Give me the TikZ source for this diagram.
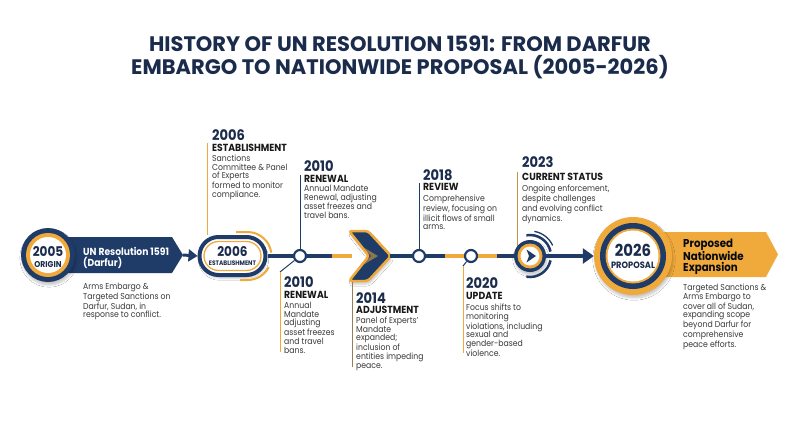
\documentclass[tikz,border=0pt]{standalone}
\usepackage{fontspec}
\setmainfont{Poppins}[FakeStretch=0.9]
\newfontfamily\titlefont{Poppins}
\usetikzlibrary{arrows.meta,shadows.blur}
\definecolor{navy}{HTML}{1F3B68}
\definecolor{dnavy}{HTML}{1A2B4C}
\definecolor{gold}{HTML}{F0A93B}
\definecolor{ink}{HTML}{3A3A3A}
\begin{document}
\begin{tikzpicture}[x=1pt,y=-1pt,
  yr/.style={anchor=base west,inner sep=0,text=dnavy,font=\fontsize{14.5}{14.5}\selectfont\bfseries},
  hd/.style={anchor=base west,inner sep=0,text=black!90,font=\fontsize{10.3}{10.3}\selectfont\bfseries},
  ds/.style={anchor=north west,inner sep=0,text=ink,align=left,font=\fontsize{8.6}{8.7}\selectfont},
  dot/.style={circle,draw=navy,fill=white,line width=2.2,minimum size=12,inner sep=0},
  disc/.style={circle,inner sep=0,fill=#1},
  tl/.style={line width=4},
  vl/.style={line width=1},
  shd/.style={blur shadow={shadow blur steps=6,shadow xshift=1pt,shadow yshift=-3pt,shadow opacity=22}},
]
\useasboundingbox (0,0) rectangle (800,447);
\fill[white] (0,0) rectangle (800,447);

% title
\node[align=center,text=dnavy,inner sep=0,font=\titlefont\fontsize{21}{23}\selectfont\bfseries] (title) at (400,57)
  {HISTORY OF UN RESOLUTION 1591: FROM DARFUR\\EMBARGO TO NATIONWIDE PROPOSAL (2005-2026)};

% ---------- 2005 origin ----------
\fill[navy] (60,237) -- (172,237) -- (183,255) -- (172,273) -- (60,273) -- cycle;
\coordinate (b05) at (183,255);
\node[disc=navy,minimum size=54,shd] (c05) at (48,255) {};
\node[disc=gold,minimum size=44] at (c05) {};
\node[disc=white,minimum size=36] at (c05) {};
\node[anchor=base,inner sep=0,text=dnavy,font=\fontsize{13.4}{13.4}\selectfont\bfseries] (y05) at (48,256.5) {2005};
\node[anchor=base,inner sep=0,text=dnavy,font=\fontsize{8.5}{8.5}\selectfont\bfseries] (o05) at (48,267.5) {ORIGIN};
\node[anchor=north west,inner sep=0,align=left,text=white,font=\fontsize{10.2}{10.5}\selectfont\bfseries] (t05) at (83,247.5) {UN Resolution 1591\\(Darfur)};
\node[ds] (d05) at (83,282.8) {Arms Embargo \&\\Targeted Sanctions on\\Darfur, Sudan, in\\response to conflict.};

% ---------- 2006 pill ----------
\node[draw=navy,fill=white,line width=4,minimum width=66,minimum height=38,rounded corners=19,inner sep=0,shd] (pill) at (232.5,256) {};
\node[draw=gold,line width=1.3,minimum width=57,minimum height=29,rounded corners=14.5,inner sep=0] at (pill) {};
\node[anchor=base,inner sep=0,text=dnavy,font=\fontsize{13.4}{13.4}\selectfont\bfseries] (y06p) at (232.5,256.5) {2006};
\node[anchor=base,inner sep=0,text=dnavy,font=\fontsize{6.5}{6.5}\selectfont\bfseries] (e06p) at (232.5,265) {ESTABLISHMENT};
\draw[gold,line width=2] (236,232) -- (247.5,232) arc[start angle=-90,end angle=-8,radius=24];
\draw[gold,line width=2] (240,280) -- (247.5,280) arc[start angle=90,end angle=28,radius=24];
\draw[navy,line width=3,-{Triangle[length=9,width=12]}] (b05) -- (pill.west);

% ---------- timeline dots ----------
\node[dot] (n10) at (300,256) {};
\node[dot] (n18) at (419,256) {};
\node[dot] (n20) at (471,256) {};
\coordinate (s1) at (332,256);
\coordinate (chL) at (352,256);
\coordinate (chR) at (390,256);
\coordinate (s2) at (445,256);
\coordinate (s3) at (497,256);

% ---------- chevron 2014 ----------
\coordinate (chv) at (370,256);
\filldraw[fill=navy,draw=gold,line width=2.5,rounded corners=3,shd] (349,231) -- (368,231) -- (391,256) -- (368,281) -- (349,281) -- (369,256) -- cycle;
\fill[gold!75!navy,opacity=0.7] (371,256) -- (363,247) -- (378,256) -- (363,265) -- cycle;

% ---------- 2023 node ----------
\node[disc=navy,minimum size=32,shd] (n23) at (530,256) {};
\node[disc=gold,minimum size=25] at (n23) {};
\node[disc=white,minimum size=19] at (n23) {};
\fill[navy] (526.5,249.5) -- (536,256) -- (526.5,262.5) -- (529,256) -- cycle;
\draw[navy,line width=2.5] ([shift={(-100:21)}]n23.center) arc[start angle=-100,end angle=-12,radius=21];
\draw[navy,line width=1.3] ([shift={(-80:25)}]n23.center) arc[start angle=-80,end angle=-25,radius=25];
\draw[navy,line width=2.5] ([shift={(12:21)}]n23.center) arc[start angle=12,end angle=100,radius=21];

% ---------- 2026 proposal ----------
\fill[gold] (640,232) -- (766,232) -- (778,254.5) -- (766,277) -- (640,277) -- cycle;
\node[disc=gold,minimum size=78,shd] (n26) at (633,256) {};
\node[disc=navy,minimum size=66] at (n26) {};
\node[disc=gold,minimum size=55] at (n26) {};
\node[disc=white,minimum size=51] at (n26) {};
\node[anchor=base,inner sep=0,text=dnavy,font=\fontsize{16.5}{16.5}\selectfont\bfseries] (y26) at (633,256.5) {2026};
\node[anchor=base,inner sep=0,text=dnavy,font=\fontsize{9.2}{9.2}\selectfont\bfseries] (p26) at (633,268) {PROPOSAL};
\node[anchor=north west,inner sep=0,align=left,text=black!85!navy,font=\fontsize{11.4}{11.3}\selectfont\bfseries] (t26) at (683,238.5) {Proposed\\Nationwide\\Expansion};
\node[ds] (d26) at (683,283.8) {Targeted Sanctions \&\\Arms Embargo to\\cover all of Sudan,\\expanding scope\\beyond Darfur for\\comprehensive\\peace efforts.};

% ---------- timeline segments ----------
\draw[navy,tl] (pill.east) -- (n10);
\draw[navy,tl] (n10) -- (s1);
\draw[gold,tl] (s1) -- (chL);
\draw[navy,tl] (chR) -- (n18);
\draw[navy,tl] (n18) -- (s2);
\draw[gold,tl] (s2) -- (n20);
\draw[gold,tl] (n20) -- (s3);
\draw[navy,tl] (s3) -- (n23);
\draw[navy,line width=3.5,-{Triangle[length=11,width=15]}] (n23) -- (n26);

% ---------- upper labels ----------
\coordinate (v06) at (207,143);
\draw[gold,vl] (v06) -- (v06 |- pill.north);
\node[yr] (y06) at (212,140) {2006};
\node[hd] (h06) at (212,151) {ESTABLISHMENT};
\node[ds] (d06) at (212,154.8) {Sanctions\\Committee \& Panel\\of Experts\\formed to monitor\\compliance.};

\coordinate (v10) at (300,175);
\draw[navy,vl] (v10) -- (n10);
\node[yr] (y10) at (304,171) {2010};
\node[hd] (h10) at (304,182) {RENEWAL};
\node[ds] (d10) at (304,184.8) {Annual Mandate\\Renewal, adjusting\\asset freezes and\\travel bans.};

\coordinate (v18) at (419,183);
\draw[navy,vl] (v18) -- (n18);
\node[yr] (y18) at (423,180) {2018};
\node[hd] (h18) at (423,190.5) {REVIEW};
\node[ds] (d18) at (423,194.8) {Comprehensive\\review, focusing on\\illicit flows of small\\arms.};

\coordinate (v23a) at (517,172);
\coordinate (v23b) at (517,246);
\draw[gold!80!navy,vl] (v23a) -- (v23b);
\node[yr] (y23) at (522,167) {2023};
\node[hd] (h23) at (522,180) {CURRENT STATUS};
\node[ds] (d23) at (522,184.8) {Ongoing enforcement,\\despite challenges\\and evolving conflict\\dynamics.};

% ---------- lower labels ----------
\coordinate (l10a) at (280,272);
\coordinate (l10b) at (280,352);
\draw[navy,vl] (n10) -- (l10a);
\draw[gold,vl] (l10a) -- (l10b);
\node[yr] (y10l) at (284,287) {2010};
\node[hd] (h10l) at (284,298) {RENEWAL};
\node[ds] (d10l) at (284,301.8) {Annual\\Mandate\\adjusting\\asset freezes\\and travel\\bans.};

\coordinate (l14a) at (352,282);
\coordinate (l14b) at (352,367);
\draw[gold!60!navy,vl] (l14a) -- (l14b);
\node[yr] (y14) at (356,303) {2014};
\node[hd] (h14) at (356,313.5) {ADJUSTMENT};
\node[ds] (d14) at (356,316.8) {Panel of Experts’\\Mandate\\expanded;\\inclusion of\\entities impeding\\peace.};

\coordinate (l20a) at (463,266);
\coordinate (l20b) at (463,353);
\draw[navy,vl] (n20) -- (l20a);
\draw[gold,vl] (l20a) -- (l20b);
\node[yr] (y20) at (466,288) {2020};
\node[hd] (h20) at (466,299) {UPDATE};
\node[ds] (d20) at (466,303.8) {Focus shifts to\\monitoring\\violations, including\\sexual and\\gender-based\\violence.};
\end{tikzpicture}
\end{document}
